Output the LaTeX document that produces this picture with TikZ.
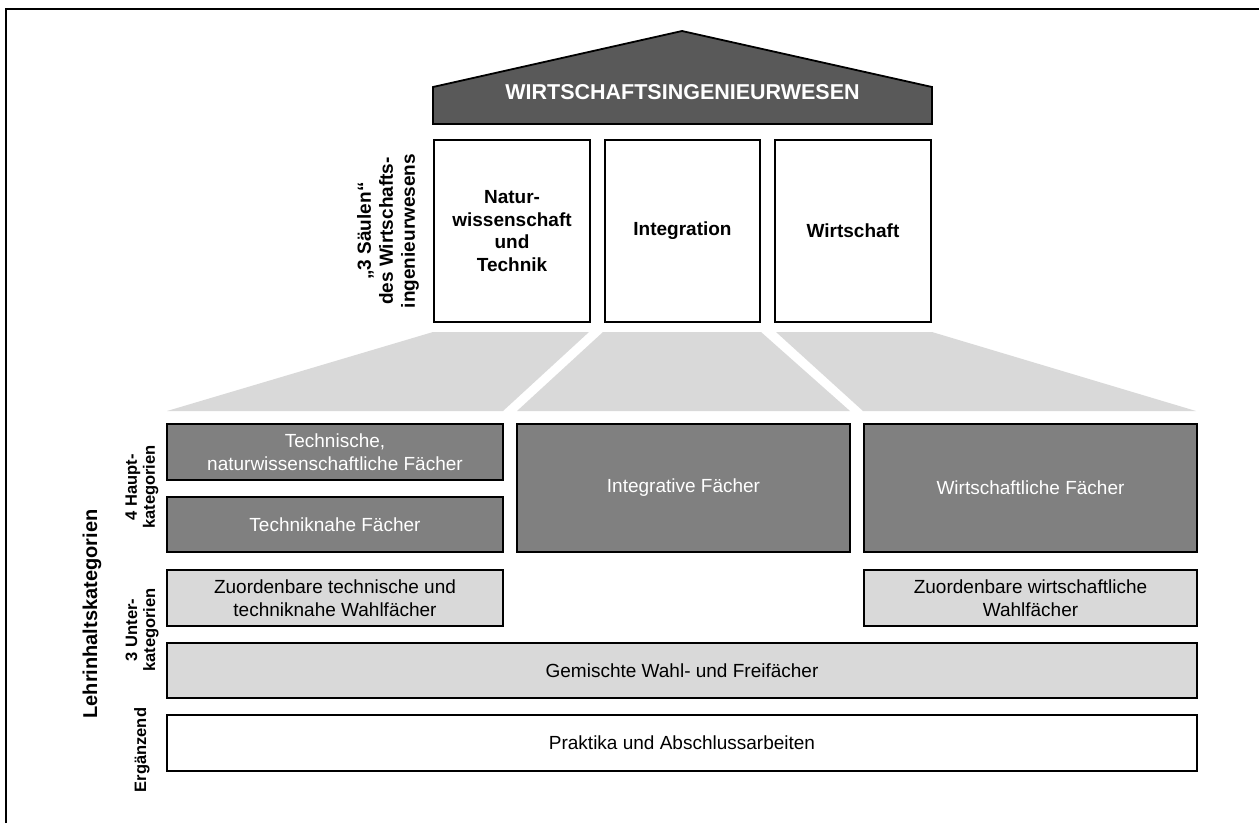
\documentclass[tikz,border=0pt]{standalone}
\usepackage{fontspec}
\setmainfont{Liberation Sans}
\definecolor{roofgray}{HTML}{595959}
\definecolor{darkbox}{HTML}{808080}
\definecolor{lightbox}{HTML}{D9D9D9}
\begin{document}
\begin{tikzpicture}[x=1pt,y=-1pt,
  box/.style={draw=black,line width=1.8pt,inner sep=0pt,align=center,
    font=\fontsize{19}{23}\selectfont},
  darkb/.style={box,fill=darkbox,text=white},
  lightb/.style={box,fill=lightbox,text=black},
  whiteb/.style={box,fill=white,text=black},
  pillar/.style={box,fill=white,minimum width=156pt,minimum height=182pt,
    font=\fontsize{19}{22.7}\selectfont\bfseries},
  sidelab/.style={rotate=90,align=center,inner sep=0pt,
    font=\fontsize{16.5}{18}\selectfont\bfseries},
  trap/.style={fill=lightbox,draw=none}
]
\useasboundingbox (0,0) rectangle (1259,823);
% outer frame (top and left)
\draw[line width=2.3pt] (6,823) -- (6,9) -- (1259,9);

% roof
\draw[fill=roofgray,line width=1.8pt,line join=miter]
  (433,124) -- (433,87) -- (682,31) -- (932,87) -- (932,124) -- cycle;
\node[text=white,font=\fontsize{21.5}{24}\selectfont\bfseries] (roof) at (682.5,92) {WIRTSCHAFTSINGENIEURWESEN};

% pillars
\node[pillar] (p1) at (512,231) {Natur-\\wissenschaft\\und\\Technik};
\node[pillar,minimum width=155pt] (p2) at (682.5,231) {Integration};
\node[pillar] (p3) at (853,231) {Wirtschaft};

\node[sidelab,font=\fontsize{19}{22}\selectfont\bfseries] (saeulen) at (388,231)
  {„3 Säulen“\\des Wirtschafts-\\ingenieurwesens};

% trapezoids
\fill[trap] (433,332) -- (589,332) -- (503,411) -- (167,411) -- cycle;
\fill[trap] (603,332) -- (761,332) -- (850,411) -- (517,411) -- cycle;
\fill[trap] (776,332) -- (932,332) -- (1196,411) -- (863,411) -- cycle;

% lower boxes
\node[darkb,minimum width=336pt,minimum height=56pt] (tech) at (335,452)
  {Technische,\\naturwissenschaftliche Fächer};
\node[darkb,minimum width=336pt,minimum height=55pt] (tnah) at (335,524.5)
  {Techniknahe Fächer};
\node[darkb,minimum width=333pt,minimum height=128pt] (integ) at (683.5,488)
  {Integrative Fächer};
\node[darkb,minimum width=333pt,minimum height=128pt] (wirt) at (1030.5,488)
  {Wirtschaftliche Fächer};
\node[lightb,minimum width=336pt,minimum height=56pt] (zt) at (335,598)
  {Zuordenbare technische und\\techniknahe Wahlfächer};
\node[lightb,minimum width=333pt,minimum height=56pt] (zw) at (1030.5,598)
  {Zuordenbare wirtschaftliche\\Wahlfächer};
\node[lightb,minimum width=1030pt,minimum height=55pt] (gem) at (682,670.5)
  {Gemischte Wahl- und Freifächer};
\node[whiteb,minimum width=1030pt,minimum height=56pt] (prak) at (682,743)
  {Praktika und Abschlussarbeiten};

% side labels
\node[sidelab] (haupt) at (142,487) {4 Haupt-\\kategorien};
\node[sidelab] (unter) at (142,630) {3 Unter-\\kategorien};
\node[sidelab] (erg) at (142,750) {Ergänzend};
\node[sidelab,font=\fontsize{20}{22}\selectfont\bfseries] (lehr) at (92,614) {Lehrinhaltskategorien};
\end{tikzpicture}
\end{document}
